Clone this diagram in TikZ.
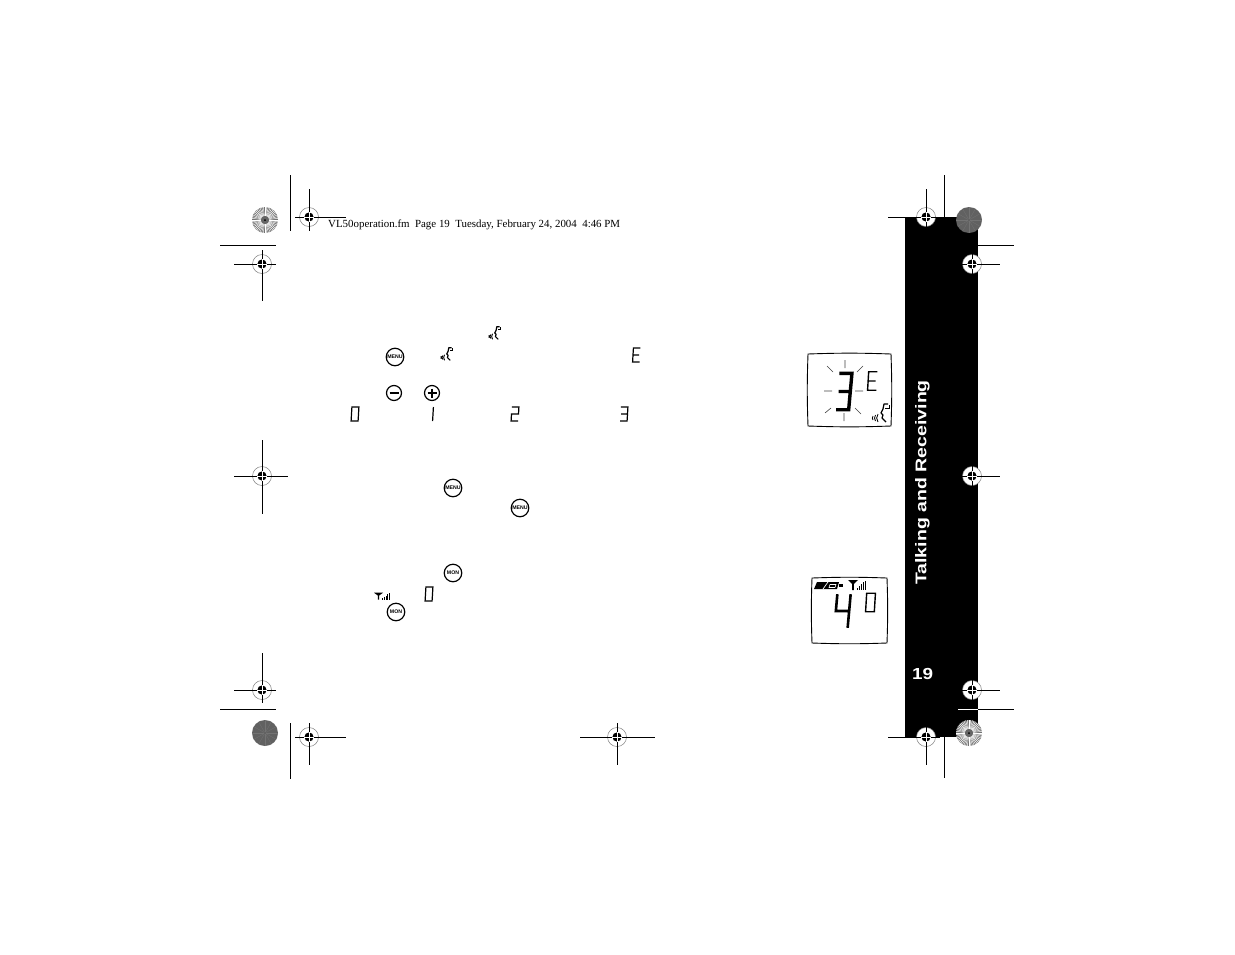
\documentclass[tikz,border=0pt]{standalone}
\usepackage{fontspec}
\setmainfont{Liberation Serif}
\setsansfont{Liberation Sans}
\tikzset{
  cropline/.style={line width=1pt},
  lcdsmall/.style={xslant=0.06,line width=1.2pt,line cap=butt,line join=miter},
  lcdbig/.style={xslant=0.09,line width=3.4pt,line cap=butt,line join=miter},
  keybtn/.style={circle,draw,line width=1.2pt,inner sep=0pt,minimum size=17.5pt,font=\sffamily\bfseries\fontsize{5.2}{6}\selectfont},
  signkey/.style={circle,draw,line width=1.2pt,inner sep=0pt,minimum size=15pt},
  ray/.style={line width=0.6pt,black!75},
  lcdzero/.pic={\draw[pic actions] (-3.5,-7)--(3.5,-7)--(3.5,7)--(-3.5,7)--cycle;},
  lcdone/.pic={\draw[pic actions] (0,-7)--(0,7);},
  lcdtwo/.pic={\draw[pic actions] (-3.5,-7)--(3.5,-7)--(3.5,0)--(-3.5,0)--(-3.5,7)--(3.5,7);},
  lcdthree/.pic={\draw[pic actions] (-3.5,-7)--(3.5,-7)--(3.5,7)--(-3.5,7) (-3,0)--(3.5,0);},
  lcdfour/.pic={\draw[pic actions] (-3.5,-7)--(-3.5,0)--(3.5,0) (3.5,-7)--(3.5,7);},
  lcde/.pic={\draw[pic actions] (3.5,-7)--(-3.5,-7)--(-3.5,7)--(3.5,7) (-3.5,0)--(2.5,0);},
  regmark/.pic={
    \fill[white] (0,0) circle (9.5);
    \draw[black!50,line width=0.5pt] (0,0) circle (9.5);
  },
  voxicon/.pic={
    \draw[line width=1.2pt,line join=round] (8,-9)--(4,-9)--(3,-4)--(1,0)--(3,2)--(2,5)--(6,9);
    \draw[line width=1pt] (9,-8)--(9,-5)--(5,-5);
    \draw[line width=0.8pt] (-2,1) to[bend right=35] (-2,9) (-4.5,2) to[bend right=35] (-4.5,8) (-7,3) to[bend right=35] (-7,7);
  },
  signalicon/.pic={
    \fill (-5,-3)--(5,-3)--(0.8,1)--(0.8,7)--(-0.8,7)--(-0.8,1)--cycle;
    \foreach \i in {1,...,5}
      \fill ({2.5+\i*1.8},7) rectangle ++(0.9,{-\i*1.9});
  },
  spokedisc/.pic={
    \fill[black!55] (0,0) circle (13);
    \foreach \a in {0,7.5,...,352.5}
      \draw[white,line width=0.45pt] (\a:4) -- (\a:13);
    \fill[black!60] (0,0) circle (4);
    \fill (0,0) circle (1);
  },
  densedisc/.pic={
    \fill[black!62] (0,0) circle (13);
    \foreach \a in {0,30,...,330}
      \draw[black!55,line width=0.3pt] (\a:1) -- (\a:13);
  }
}
\begin{document}
\begin{tikzpicture}[x=1pt,y=-1pt]
  \useasboundingbox (0,0) rectangle (1235,954);
  % side tab
  \fill (905,217) rectangle (978,737);
  \node[rotate=90,text=white,font=\sffamily\bfseries\fontsize{15.5}{18}\selectfont] (tabtitle) at (922.5,482.5) {\scalebox{1.26}[1]{Talking and Receiving}};
  \node[text=white,font=\sffamily\bfseries\fontsize{16}{18}\selectfont] (pagenum) at (922.5,674) {\scalebox{1.18}[1]{19}};
  % crop lines
  \draw[cropline] (290,175)--(290,231) (220,245)--(276,245) (220,709)--(276,709) (290,723)--(290,779);
  \draw[cropline] (944,175)--(944,217) (978,245)--(1014,245) (978,709)--(1014,709) (944,737)--(944,778);
  \draw[cropline,white] (958,709)--(978,709);
  % registration marks: x/y/left/right/top/bottom
  \foreach \mx/\my/\xa/\xb/\ya/\yb in {309/217/295/346/189/231,262/264/234/276/250/301,262/476/234/288/440/514,262/690/234/276/653/703,309/737/295/346/723/765,617/737/580/655/723/765,926/217/888/940/189/231,972/264/958/1000/250/278,972/476/958/1000/462/490,972/690/958/1000/676/704,926/737/888/940/723/765}{
    \pic at (\mx,\my) {regmark};
    \draw[cropline] (\xa,\my)--(\xb,\my) (\mx,\ya)--(\mx,\yb);
    \fill (\mx,\my) circle (4.6);
    \draw[white,line width=0.6pt] (\mx-4.6,\my)--(\mx+4.6,\my) (\mx,\my-4.6)--(\mx,\my+4.6);
  }
  \pic at (265,220) {spokedisc};
  \pic at (969,733) {spokedisc};
  \pic at (969,220) {densedisc};
  \pic at (265,733) {densedisc};
  \node[font=\fontsize{10.9}{12}\selectfont,anchor=west,inner sep=0pt] (header) at (328,224.5) {VL50operation.fm\ \ Page 19\ \ Tuesday, February 24, 2004\ \ 4:46 PM};
  % text icons
  \pic[scale=0.7] at (494,333) {voxicon};
  \pic[scale=0.7] at (446,354) {voxicon};
  \node[keybtn] (menua) at (395,357) {MENU};
  \node[signkey] (minuskey) at (394,393) {};
  \node[signkey] (pluskey) at (432,393) {};
  \draw[line width=1.2pt] (minuskey.center)+(-4.5,0) -- +(4.5,0);
  \draw[line width=1.2pt] (pluskey.center)+(-4.5,0) -- +(4.5,0) (pluskey.center)+(0,-4.5) -- +(0,4.5);
  \node[keybtn] (menub) at (453,488) {MENU};
  \node[keybtn] (menuc) at (520,508) {MENU};
  \node[keybtn] (mona) at (453,573) {MON};
  \node[keybtn] (monb) at (396,612) {MON};
  \pic[xscale=0.9,yscale=0.7] at (378.5,594.8) {signalicon};
  % small digits
  \pic[lcdsmall] at (355,414) {lcdzero};
  \pic[lcdsmall] at (433,414) {lcdone};
  \pic[lcdsmall] at (515,414) {lcdtwo};
  \pic[lcdsmall] at (624,414) {lcdthree};
  \pic[lcdsmall] at (636.5,355) {lcde};
  \pic[lcdsmall] at (429,594) {lcdzero};
  % first display
  \draw[line width=0.9pt] (808,354) to[bend left=2] (891,354) to[bend left=2] (891,426) to[bend left=2] (808,426) to[bend left=2] cycle;
  \draw[ray] (845,360)--(845,368) (844,413)--(844,421) (824,391)--(832,391) (855,391)--(863,391)
    (827,366)--(833,372) (863,366)--(857,372) (825,413)--(831,408) (855,408)--(861,414);
  \pic[lcdbig,xscale=1.8,yscale=2.6] at (844,391.5) {lcdthree};
  \pic[lcdsmall,line width=1.4pt,xscale=1.25,yscale=1.32] at (872.5,381) {lcde};
  \pic at (880,413) {voxicon};
  % second display
  \draw[line width=0.9pt] (812,578) to[bend left=2] (887,578) to[bend left=2] (887,643) to[bend left=2] (812,643) to[bend left=2] cycle;
  \fill (817,582)--(839,582)--(837,589)--(814,589)--cycle;
  \draw[white,line width=0.7pt] (823,589)--(828,582);
  \draw[white,line width=0.6pt] (830,584.5)--(836,584.5)--(835,587.5)--(829,587.5)--cycle;
  \fill (839,584) rectangle (843,587);
  \pic at (853,583) {signalicon};
  \pic[lcdbig,line width=2.6pt,xscale=1.9,yscale=2.4] at (842.5,611) {lcdfour};
  \pic[lcdsmall,line width=1.4pt,xscale=1.25,yscale=1.32] at (870.5,602.5) {lcdzero};
\end{tikzpicture}
\end{document}
